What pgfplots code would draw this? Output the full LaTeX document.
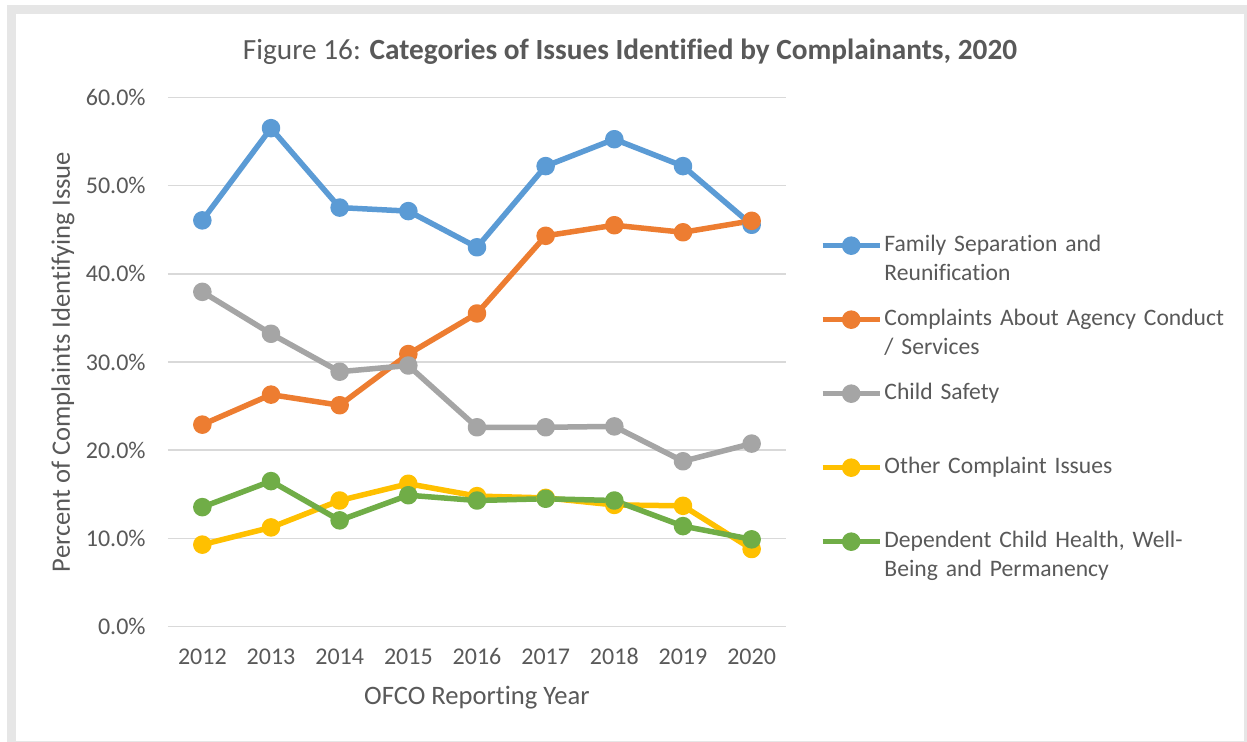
\documentclass[border=0pt]{standalone}
\usepackage{fontspec}
\setmainfont{Carlito}[Ligatures=NoCommon]
\usepackage{pgfplots}
\pgfplotsset{compat=1.18}
\definecolor{cblue}{HTML}{5B9BD5}
\definecolor{corange}{HTML}{ED7D31}
\definecolor{cgray}{HTML}{A5A5A5}
\definecolor{cyellow}{HTML}{FFC000}
\definecolor{cgreen}{HTML}{70AD47}
\definecolor{textgray}{HTML}{595959}
\definecolor{gridgray}{HTML}{D9D9D9}
\definecolor{framegray}{HTML}{E6E6E6}
\begin{document}
\begin{tikzpicture}
\useasboundingbox (0,0) rectangle (623.5pt,371pt);
\fill[white] (0,0) rectangle (623.5pt,371pt);
\fill[framegray] (3.5pt,0) rectangle (623.5pt,368.5pt);
\fill[white] (8pt,0.5pt) rectangle (622pt,364pt);
\begin{axis}[
  at={(84pt,57.65pt)}, anchor=south west,
  scale only axis, width=309pt, height=264.7pt,
  xmin=-0.5, xmax=8.5, ymin=0, ymax=60,
  xtick={0,1,2,3,4,5,6,7,8},
  xticklabels={2012,2013,2014,2015,2016,2017,2018,2019,2020},
  ytick={0,10,20,30,40,50,60},
  yticklabel={\pgfmathprintnumber[fixed,fixed zerofill,precision=1]{\tick}\%},
  /pgf/number format/assume math mode=true,
  ymajorgrids, grid style={color=gridgray, line width=0.75pt},
  axis lines*=left, axis line style={draw=none},
  major tick length=0pt, tick style={draw=none},
  ticklabel style={font=\fontsize{12}{14}\selectfont, text=textgray},
  xticklabel style={anchor=base, yshift=-19.15pt},
  yticklabel style={anchor=east, inner sep=0pt, xshift=-11pt},
  every axis y label/.style={at={(axis description cs:-0.1586,0.5)}, rotate=90, anchor=base, font=\fontsize{13.3}{16}\selectfont, text=textgray},
  every axis x label/.style={at={(axis description cs:0.5,-0.1479)}, anchor=base, font=\fontsize{13.3}{16}\selectfont, text=textgray},
  every axis title/.style={at={(axis description cs:0.7476,1.0705)}, anchor=base, font=\fontsize{14.65}{17}\selectfont, text=textgray},
  title={Figure 16: \textbf{Categories of Issues Identified by Complainants, 2020}},
  xlabel={OFCO Reporting Year},
  ylabel={Percent of Complaints Identifying Issue},
  legend style={at={(axis description cs:1.055,0.7424)}, anchor=north west,
    draw=none, fill=none, inner sep=0pt, outer sep=0pt,
    row sep=5pt, column sep=1pt,
    font=\fontsize{11.8}{14.4}\selectfont, text=textgray,
    nodes={inner sep=0pt, text width=185pt, align=left, text height=9pt, text depth=23pt, anchor=base west}},
  legend image code/.code={\draw[mark repeat=2,mark phase=2,#1] plot coordinates {(0pt,3pt)(14.25pt,3pt)(28.5pt,3pt)};},
  every axis plot/.append style={line width=2.75pt, line join=round, mark=*, mark size=3.25pt, mark options={line width=0.5pt}},
]
\addplot[color=cblue, mark options={fill=cblue}] coordinates {(0,46.05)(1,56.5)(2,47.5)(3,47.1)(4,43.0)(5,52.2)(6,55.25)(7,52.2)(8,45.55)};
\addlegendentry{Family Separation and\\Reunification}
\addplot[color=corange, mark options={fill=corange}] coordinates {(0,22.9)(1,26.3)(2,25.1)(3,30.9)(4,35.5)(5,44.3)(6,45.5)(7,44.7)(8,46.0)};
\addlegendentry{Complaints About Agency Conduct\\/ Services}
\addplot[color=cgray, mark options={fill=cgray}] coordinates {(0,37.95)(1,33.2)(2,28.9)(3,29.6)(4,22.6)(5,22.6)(6,22.7)(7,18.75)(8,20.75)};
\addlegendentry{Child Safety}
\addplot[color=cyellow, mark options={fill=cyellow}] coordinates {(0,9.3)(1,11.25)(2,14.3)(3,16.2)(4,14.8)(5,14.6)(6,13.8)(7,13.7)(8,8.8)};
\addlegendentry{Other Complaint Issues}
\addplot[color=cgreen, mark options={fill=cgreen}] coordinates {(0,13.55)(1,16.5)(2,12.05)(3,14.9)(4,14.3)(5,14.5)(6,14.3)(7,11.4)(8,9.9)};
\addlegendentry{Dependent Child Health, Well-\\Being and Permanency}
\end{axis}
\end{tikzpicture}
\end{document}
